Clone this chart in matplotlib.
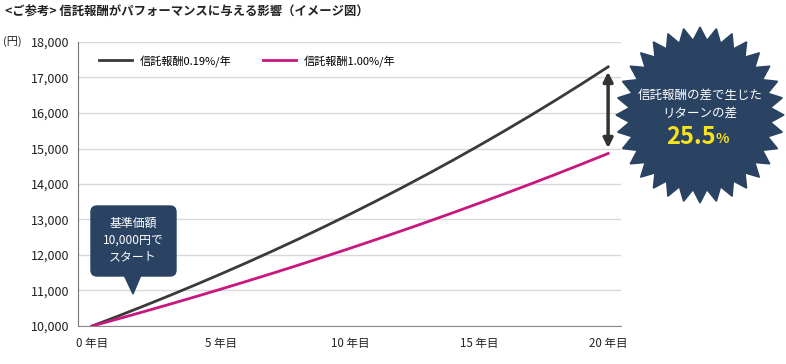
import numpy as np
import matplotlib
matplotlib.use('Agg')
import matplotlib.pyplot as plt
from matplotlib.patches import Polygon, FancyBboxPatch

plt.rcParams['font.family'] = ['Noto Sans CJK JP', 'DejaVu Sans']

years = list(range(21))
fee_low = [10000, 10278, 10564, 10857, 11159, 11469, 11787, 12115, 12451, 12797, 13152,
           13518, 13893, 14279, 14676, 15084, 15503, 15933, 16376, 16831, 17300]
fee_high = [10000, 10200, 10404, 10612, 10824, 11041, 11262, 11487, 11717, 11951, 12190,
            12434, 12682, 12936, 13195, 13459, 13728, 14002, 14282, 14568, 14859]
label_low = '信託報酬0.19%/年'
label_high = '信託報酬1.00%/年'
xticks = [0, 5, 10, 15, 20]
xtick_labels = ['0 年目', '5 年目', '10 年目', '15 年目', '20 年目']
yticks = list(range(10000, 18001, 1000))

W, H = 786, 364
fig = plt.figure(figsize=(W / 100, H / 100), dpi=100)
ax = fig.add_axes([78 / W, 1 - 326 / H, (621 - 78) / W, (326 - 42) / H])

ax.plot(years, fee_low, color='#3a3a3a', lw=2, label=label_low, zorder=3)
ax.plot(years, fee_high, color='#c8177f', lw=2, label=label_high, zorder=3)

ax.set_xlim(-0.55, 20.5)
ax.set_ylim(10000, 18000)
ax.set_yticks(yticks)
ax.set_yticklabels([f'{v:,}' for v in yticks], fontsize=9, color='#222222')
ax.set_xticks(xticks)
ax.set_xticklabels(xtick_labels, fontsize=8.3, color='#222222')
ax.tick_params(length=0, pad=6)
ax.tick_params(axis='x', pad=8)
ax.grid(axis='y', color='#d9d9d9', lw=1)
ax.set_axisbelow(True)
for s in ['top', 'right']:
    ax.spines[s].set_visible(False)
ax.spines['left'].set_color('#777777')
ax.spines['bottom'].set_color('#888888')

leg = ax.legend(loc='upper left', bbox_to_anchor=(0.02, 0.99), ncol=2, frameon=False,
                fontsize=8, handlelength=3.0, columnspacing=2.8, handletextpad=0.7)

# double arrow at year 20
ax.annotate('', xy=(20, 17160), xytext=(20, 15010),
            arrowprops=dict(arrowstyle='<|-|>', color='#333333', lw=2.5,
                            mutation_scale=14, shrinkA=0, shrinkB=0))

# overlay in pixel coords
ov = fig.add_axes([0, 0, 1, 1], zorder=5)
ov.set_xlim(0, W)
ov.set_ylim(H, 0)
ov.axis('off')
ov.patch.set_alpha(0)

navy = '#2a4363'

# starburst
n = 32
cx, cy = 700, 115
ang = np.linspace(0, 2 * np.pi, 2 * n, endpoint=False) - np.pi / 2
outer = np.arange(2 * n) % 2 == 0
rx = np.where(outer, 84, 71)
ry = np.where(outer, 88, 75)
pts = np.column_stack([cx + rx * np.cos(ang), cy + ry * np.sin(ang)])
ov.add_patch(Polygon(pts, closed=True, color=navy))
ov.text(cx, 95, '信託報酬の差で生じた', color='white', fontsize=9, ha='center', va='center')
ov.text(cx, 113, 'リターンの差', color='white', fontsize=9, ha='center', va='center')
ov.text(cx + 16, 137, '25.5', color='#f7e21b', fontsize=17, fontweight='bold',
        ha='right', va='center')
ov.text(cx + 15, 139, '%', color='#f7e21b', fontsize=10, fontweight='bold',
        ha='left', va='center')

# callout box
ov.add_patch(FancyBboxPatch((91, 206), 85, 70, boxstyle='round,pad=0,rounding_size=6',
                            color=navy))
ov.add_patch(Polygon([(124, 275), (141, 275), (133, 294)], closed=True, color=navy))
ov.text(133, 240, '基準価額\n10,000円で\nスタート', color='white', fontsize=8.6,
        ha='center', va='center', linespacing=1.4)

# title and unit
fig.text(5 / W, 1 - 12 / H, '<ご参考> 信託報酬がパフォーマンスに与える影響（イメージ図）',
         fontsize=8.9, fontweight='bold', ha='left', va='center', color='#222222')
fig.text(3 / W, 1 - 42 / H, '(円)', fontsize=8, ha='left', va='center', color='#222222')

fig.savefig('out.png', dpi=100)
